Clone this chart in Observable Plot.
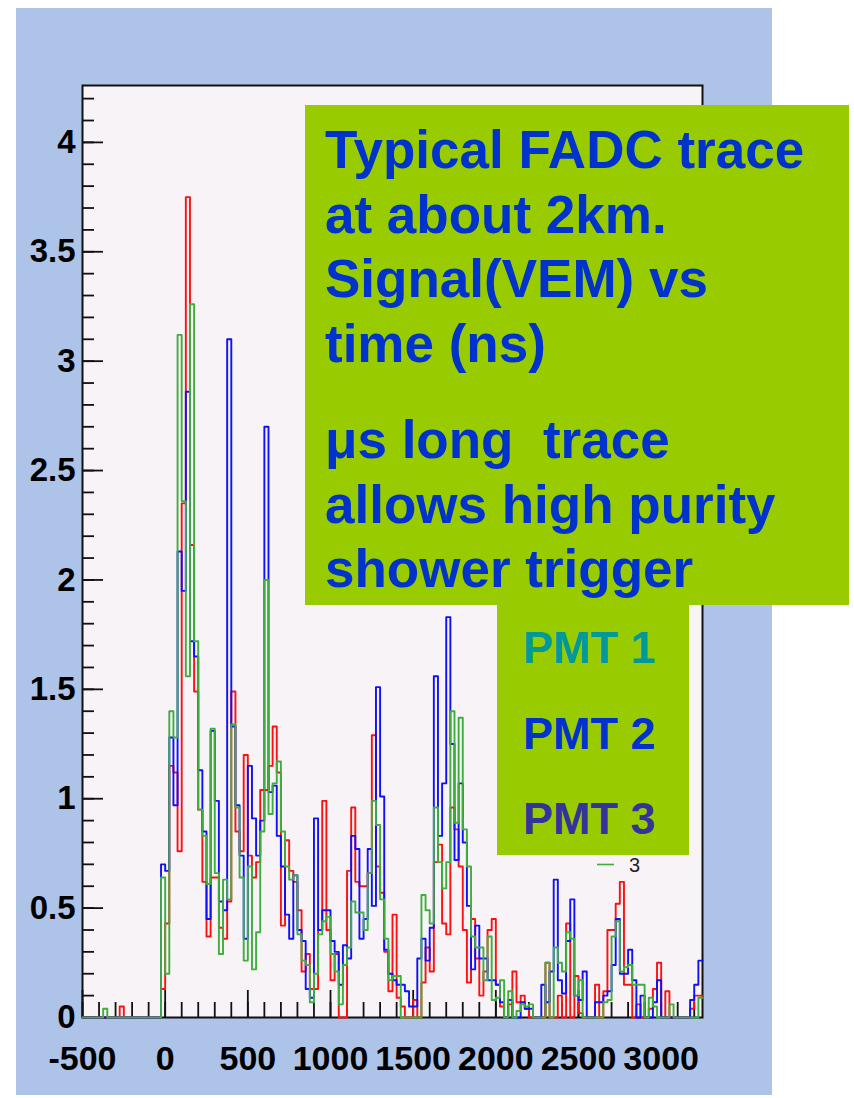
<!DOCTYPE html>
<html>
<head>
<meta charset="utf-8">
<script src="https://cdn.jsdelivr.net/npm/d3@7"></script>
<script src="https://cdn.jsdelivr.net/npm/@observablehq/plot@0.6"></script>
<style>
  html, body { margin: 0; padding: 0; background: #ffffff; }
  #page { position: relative; width: 854px; height: 1098px; overflow: hidden; }
  #panel { position: absolute; left: 16px; top: 8px; width: 756px; height: 1087px; background: #aec3e8; }
  #chart, #notes { position: absolute; left: 0; top: 0; }
</style>
</head>
<body>
<div id="page">
  <div id="panel"></div>
  <div id="chart"></div>
  <svg id="notes" width="854" height="1098"></svg>
</div>
<script>
// FADC trace histogram: 25 ns bins from -500 ns to 3250 ns, signal in VEM
const binWidth = 25;
const tMin = -500, tMax = 3250;
const times = d3.range(tMin, tMax, binWidth);   // lower bin edges (ns)

// PMT 1 (red)
const pmt1 = [
  0, 0, 0, 0, 0, 0, 0, 0, 0, 0.05,
  0, 0, 0, 0, 0, 0, 0, 0, 0, 0.13,
  0.43, 1.15, 1.12, 0.76, 2.35, 3.75, 2.16, 1.49, 0.95, 0.62,
  0.37, 0.64, 0.64, 0.41, 0.36, 0.53, 1.49, 0.85, 0.76, 1.20,
  0.74, 0.64, 0.71, 1.04, 1.04, 1.15, 1.33, 1.12, 0.42, 0.81,
  0.67, 0.62, 0.49, 0.21, 0.29, 0.13, 0.13, 0.40, 0.99, 0.40,
  0.17, 0.29, 0, 0, 0.67, 0.96, 0.62, 0.60, 0.60, 0.66,
  1.29, 0.69, 0.57, 0.30, 0.12, 0.47, 0.09, 0.05, 0, 0,
  0.08, 0, 0.16, 0.32, 0.21, 0.71, 0.79, 0.43, 0.38, 0.96,
  0.86, 0.69, 0.40, 0.16, 0.45, 0.27, 0.10, 0.21, 0.40, 0.45,
  0.15, 0.05, 0, 0.06, 0.21, 0.07, 0.10, 0.04, 0, 0,
  0, 0, 0.25, 0, 0, 0.10, 0, 0.43, 0, 0.19,
  0.02, 0, 0, 0, 0.15, 0, 0.12, 0.40, 0.40, 0.52,
  0.62, 0.15, 0.15, 0, 0.06, 0, 0, 0.04, 0.13, 0.25,
  0, 0.12, 0, 0, 0, 0, 0, 0.04, 0.10, 0.10
];

// PMT 2 (blue)
const pmt2 = [
  0, 0, 0, 0, 0, 0, 0, 0, 0, 0,
  0, 0, 0, 0, 0, 0, 0, 0, 0, 0.70,
  0.67, 1.28, 0.97, 2.13, 1.95, 2.86, 1.72, 1.65, 1.13, 0.85,
  0.45, 1.31, 0.99, 0.53, 0.49, 3.10, 1.33, 0.97, 0.74, 0.36,
  1.15, 0.91, 0.74, 0.90, 2.70, 1.03, 1.06, 0.83, 0.69, 0.47,
  0.36, 0.65, 0.40, 0.35, 0.13, 0.09, 0.91, 0.40, 0.49, 0.49,
  0.35, 0.30, 0.15, 0.33, 0.27, 0.83, 0.77, 0.36, 0.45, 0.77,
  0.51, 1.51, 1.01, 0.31, 0.20, 0.17, 0.15, 0.15, 0.12, 0.05,
  0.05, 0.27, 0.36, 0.26, 0.41, 1.56, 0.83, 1.07, 1.83, 1.25,
  0.72, 1.07, 0.80, 0.51, 0.22, 0.42, 0.27, 0.27, 0.17, 0.17,
  0.15, 0.07, 0, 0.08, 0, 0, 0.07, 0.04, 0.04, 0,
  0, 0.15, 0.07, 0.21, 0.63, 0.17, 0.11, 0.35, 0.54, 0.10,
  0.08, 0.21, 0, 0, 0.07, 0.07, 0.10, 0.12, 0.24, 0.45,
  0.20, 0.20, 0.31, 0.17, 0, 0.10, 0, 0, 0.07, 0.17,
  0, 0, 0, 0, 0, 0, 0, 0.08, 0.15, 0.26
];

// PMT 3 (green)
const pmt3 = [
  0, 0, 0, 0, 0, 0.04, 0, 0, 0, 0,
  0, 0, 0, 0, 0, 0, 0, 0, 0, 0.64,
  0.20, 1.40, 1.28, 3.12, 2.36, 1.56, 3.26, 1.72, 0.95, 0.83,
  0.61, 1.32, 0.66, 0.29, 0.63, 0.54, 1.34, 0.96, 0.64, 0.26,
  0.69, 0.22, 0.39, 0.85, 2.00, 0.93, 1.07, 1.17, 0.85, 0.69,
  0.63, 0.65, 0.38, 0.26, 0.24, 0.07, 0.20, 0.38, 0.44, 0.46,
  0.29, 0.21, 0.06, 0.24, 0.32, 0.53, 0.48, 0.48, 0.40, 0.66,
  0.99, 0.88, 0.54, 0.36, 0.17, 0.19, 0.19, 0, 0, 0,
  0, 0, 0.56, 0.49, 0.43, 0.96, 0.71, 0.59, 0.71, 1.40,
  0.89, 1.37, 0.86, 0.69, 0.37, 0.32, 0.32, 0.17, 0.37, 0.08,
  0.09, 0.17, 0, 0.12, 0, 0.03, 0.06, 0.05, 0.06, 0,
  0, 0, 0.25, 0, 0.32, 0.25, 0.21, 0.39, 0.36, 0.10,
  0.17, 0, 0, 0, 0, 0, 0.07, 0.08, 0.37, 0.44,
  0.21, 0.23, 0.24, 0.15, 0.15, 0.15, 0, 0.09, 0.05, 0,
  0, 0, 0.06, 0, 0, 0, 0, 0, 0, 0.09
];

const yMax = 4.26;
const yLabelTicks = [0, 0.5, 1, 1.5, 2, 2.5, 3, 3.5, 4];
const xLabelTicks = [-500, 0, 500, 1000, 1500, 2000, 2500, 3000];
const yMinorTicks = d3.range(0, 43).map(i => i / 10);
const xMinorTicks = d3.range(tMin, tMax, 100);

const noteLines = [
  ["Typical FADC trace", "at about 2km.", "Signal(VEM) vs", "time (ns)"],
  ["\u03bcs long  trace", "allows high purity", "shower trigger"]
];
const pmtLabels = ["PMT 1", "PMT 2", "PMT 3"];
const pmtLabelColors = ["#009999", "#0033cc", "#333399"];

// histogram outline: one point per lower edge plus the closing upper edge
const toSteps = vals => [
  ...vals.map((v, i) => ({t: times[i], v})),
  {t: tMax, v: vals[vals.length - 1]}
];

const W = 854, H = 1098;
const mL = 82, mR = 152, mT = 85, mB = 81;
const plotW = W - mL - mR;
const plotH = H - mT - mB;
const font = "'Liberation Sans', Arial, Helvetica, sans-serif";

const chart = Plot.plot({
  width: W,
  height: H,
  marginLeft: mL,
  marginRight: mR,
  marginTop: mT,
  marginBottom: mB,
  x: {domain: [tMin, tMax], label: null},
  y: {domain: [0, yMax], label: null},
  style: {background: "transparent", fontFamily: font, overflow: "visible"},
  marks: [
    Plot.frame({fill: "#f7f3f7", stroke: "#111", strokeWidth: 2}),
    Plot.tickY(yMinorTicks, {y: d => d, stroke: "#111", strokeWidth: 1.8, insetRight: plotW - 12}),
    Plot.tickY(yLabelTicks, {y: d => d, stroke: "#111", strokeWidth: 1.8, insetRight: plotW - 21}),
    Plot.tickX(xMinorTicks, {x: d => d, stroke: "#111", strokeWidth: 1.8, insetTop: plotH - 15}),
    Plot.tickX(xLabelTicks, {x: d => d, stroke: "#111", strokeWidth: 1.8, insetTop: plotH - 27}),
    Plot.line(toSteps(pmt1), {x: "t", y: "v", curve: "step-after", stroke: "#ff1010", strokeWidth: 1.9}),
    Plot.line(toSteps(pmt2), {x: "t", y: "v", curve: "step-after", stroke: "#1010ff", strokeWidth: 1.9}),
    Plot.line(toSteps(pmt3), {x: "t", y: "v", curve: "step-after", stroke: "#3fae3f", strokeWidth: 1.9}),
    Plot.axisY(yLabelTicks, {
      label: null, tickSize: 0, tickPadding: 7, fontSize: 33, fontWeight: "bold",
      fill: "#000", tickFormat: d => String(d)
    }),
    Plot.axisX(xLabelTicks, {
      label: null, tickSize: 0, tickPadding: 28, fontSize: 34, fontWeight: "bold",
      fill: "#000", tickFormat: d => String(d)
    })
  ]
});
document.getElementById("chart").appendChild(chart);

// annotation boxes over the plot
const notes = d3.select("#notes").style("font-family", font);

notes.append("rect")
  .attr("x", 305).attr("y", 105).attr("width", 544).attr("height", 500)
  .attr("fill", "#99cc00");
notes.append("rect")
  .attr("x", 497).attr("y", 605).attr("width", 192).attr("height", 250)
  .attr("fill", "#99cc00");

const paraStart = [168, 458];
const lineStep = 64.7;
noteLines.forEach((para, p) => {
  para.forEach((line, j) => {
    notes.append("text")
      .attr("x", 325)
      .attr("y", paraStart[p] + j * lineStep)
      .attr("fill", "#0033cc")
      .attr("font-size", 53)
      .attr("font-weight", "bold")
      .style("white-space", "pre")
      .attr("xml:space", "preserve")
      .text(line);
  });
});

pmtLabels.forEach((label, k) => {
  notes.append("text")
    .attr("x", 523)
    .attr("y", 663 + k * 85.5)
    .attr("fill", pmtLabelColors[k])
    .attr("font-size", 45)
    .attr("font-weight", "bold")
    .text(label);
});

// small histogram legend entry
notes.append("line")
  .attr("x1", 597).attr("x2", 614).attr("y1", 864.5).attr("y2", 864.5)
  .attr("stroke", "#3fae3f").attr("stroke-width", 1.6);
notes.append("text")
  .attr("x", 629).attr("y", 872)
  .attr("fill", "#222").attr("font-size", 20)
  .text("3");
</script>
</body>
</html>
